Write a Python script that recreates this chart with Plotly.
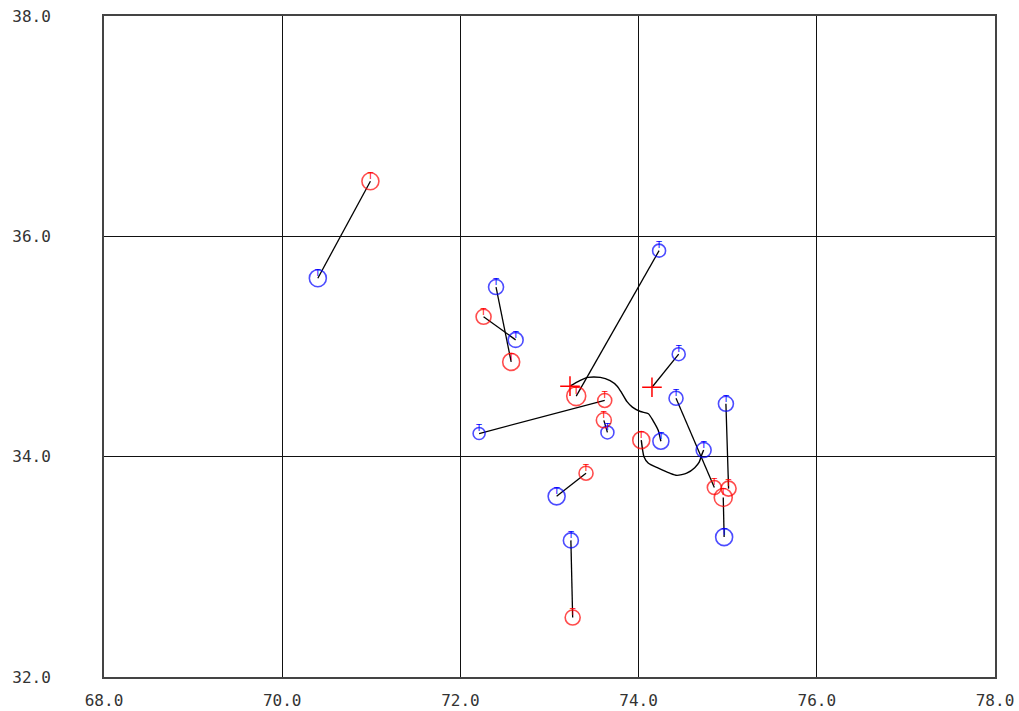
import plotly.graph_objects as go

# Observed positions (blue circles)
blue_lon = [70.40, 72.40, 72.62, 74.23, 72.21, 73.65, 74.45, 74.42, 74.98, 74.96, 73.08, 73.24, 74.25, 74.73]
blue_lat = [35.62, 35.54, 35.06, 35.87, 34.21, 34.22, 34.93, 34.53, 34.48, 33.27, 33.64, 33.24, 34.14, 34.06]
blue_size = [17, 15, 15, 13, 12, 13, 13, 14, 15, 17, 17, 15, 16, 15]

# Forecast positions (red circles)
red_lon = [70.99, 72.57, 72.26, 73.30, 73.62, 73.61, 74.85, 75.01, 74.95, 73.41, 73.26, 74.03]
red_lat = [36.50, 34.86, 35.27, 34.55, 34.51, 34.33, 33.72, 33.71, 33.63, 33.85, 32.54, 34.15]
red_size = [17, 17, 15, 19, 14, 15, 14, 15, 18, 14, 15, 17]

# Red cross markers
cross_lon = [73.23, 74.15]
cross_lat = [34.64, 34.63]

# Straight links: (blue index, red index)
red_links = [(0, 0), (1, 1), (2, 2), (3, 3), (4, 4), (5, 5),
             (7, 6), (8, 7), (9, 8), (10, 9), (11, 10)]
# Straight links: (blue index, cross index)
cross_links = [(6, 1)]

# Curved tracks
track_a_lon = [73.23, 73.34, 73.43, 73.57, 73.68, 73.76, 73.81, 73.87, 73.93, 74.02, 74.11, 74.16, 74.22, 74.25]
track_a_lat = [34.64, 34.69, 34.72, 34.72, 34.69, 34.64, 34.58, 34.50, 34.45, 34.41, 34.39, 34.33, 34.24, 34.14]
track_b_lon = [74.03, 74.06, 74.11, 74.21, 74.35, 74.43, 74.54, 74.63, 74.68, 74.71, 74.73]
track_b_lat = [34.15, 34.00, 33.94, 33.90, 33.85, 33.83, 33.85, 33.90, 33.95, 34.02, 34.06]

x_ticks = [68, 70, 72, 74, 76, 78]
y_ticks = [32, 34, 36, 38]

fig = go.Figure()

# connecting segments
seg_x, seg_y = [], []
for b, r in red_links:
    seg_x += [blue_lon[b], red_lon[r], None]
    seg_y += [blue_lat[b], red_lat[r], None]
for b, c in cross_links:
    seg_x += [blue_lon[b], cross_lon[c], None]
    seg_y += [blue_lat[b], cross_lat[c], None]
fig.add_trace(go.Scatter(x=seg_x, y=seg_y, mode="lines",
                         line=dict(color="black", width=1.3), hoverinfo="skip"))

for lon, lat in [(track_a_lon, track_a_lat), (track_b_lon, track_b_lat)]:
    fig.add_trace(go.Scatter(x=lon, y=lat, mode="lines",
                             line=dict(color="black", width=1.4, shape="spline", smoothing=0.6),
                             hoverinfo="skip"))

# circles
fig.add_trace(go.Scatter(x=blue_lon, y=blue_lat, mode="markers",
                         marker=dict(symbol="circle-open", size=blue_size,
                                     color="#0000ff", line=dict(color="#0000ff", width=1.6))))
fig.add_trace(go.Scatter(x=red_lon, y=red_lat, mode="markers",
                         marker=dict(symbol="circle-open", size=red_size,
                                     color="#ff0000", line=dict(color="#ff0000", width=1.6))))
fig.add_trace(go.Scatter(x=cross_lon, y=cross_lat, mode="markers",
                         marker=dict(symbol="cross-thin-open", size=14,
                                     color="#ff0000", line=dict(color="#ff0000", width=1.5))))

# small tick glyph inside each circle, sitting above the centre
fig.add_trace(go.Scatter(x=blue_lon, y=blue_lat, mode="text",
                         text=["T"] * len(blue_lon), textposition="top center",
                         textfont=dict(family="DejaVu Sans", size=9, color="#0000ff"),
                         hoverinfo="skip"))
fig.add_trace(go.Scatter(x=red_lon, y=red_lat, mode="text",
                         text=["T"] * len(red_lon), textposition="top center",
                         textfont=dict(family="DejaVu Sans", size=9, color="#ff0000"),
                         hoverinfo="skip"))

axis_common = dict(
    showgrid=True, gridcolor="#111111", gridwidth=1.3,
    showline=True, mirror=True, linecolor="#444444", linewidth=2,
    zeroline=False, ticks="", tickformat=".1f", automargin=False,
    tickfont=dict(family="DejaVu Sans Mono", size=16, color="#333333"),
)

fig.update_layout(
    width=1019, height=711,
    margin=dict(l=104, r=24, t=16, b=34, autoexpand=False),
    paper_bgcolor="white", plot_bgcolor="white",
    showlegend=False,
    xaxis=dict(range=[68, 78], tickvals=x_ticks, ticklabelstandoff=8, **axis_common),
    yaxis=dict(range=[32, 38], tickvals=y_ticks, ticklabelstandoff=48, **axis_common),
)

fig.write_html("out.html")
